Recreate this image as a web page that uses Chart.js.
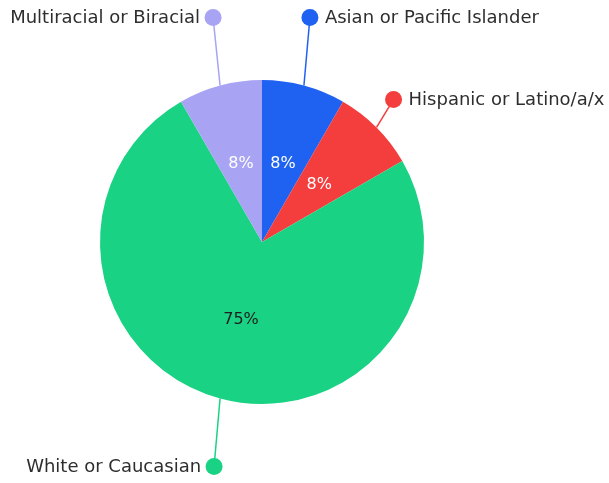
<!DOCTYPE html>
<html>
<head>
<meta charset="utf-8">
<script src="https://cdn.jsdelivr.net/npm/chart.js@4"></script>
<style>
  html, body { margin: 0; padding: 0; background: #fff; }
  #wrap { width: 609px; height: 483px; position: relative; }
</style>
</head>
<body>
<div id="wrap"><canvas id="pie"></canvas></div>
<script>
/* ---------- Data ---------- */
const categories = ['Asian or Pacific Islander', 'Hispanic or Latino/a/x', 'White or Caucasian', 'Multiracial or Biracial'];
const shares = [1, 1, 9, 1];   // 8%, 8%, 75%, 8%
const sliceColors = ['#1f62f2', '#f43d3d', '#1ad283', '#a8a3f3'];

/* ---------- Callout styling (offset from arc edge to dot, text side) ---------- */
const calloutStyle = [
    { dx: 6, dy: -68, side: 'right' },
    { dx: 17, dy: -28, side: 'right' },
    { dx: -6, dy: 68, side: 'left' },
    { dx: -7, dy: -68, side: 'left' }
];
const FONT = '18px "DejaVu Sans", sans-serif';

/* ---------- Plugin: percentages + callout labels ---------- */
const pieLabels = {
    id: 'pieLabels',
    afterDatasetsDraw(chart) {
        const ctx = chart.ctx;
        const meta = chart.getDatasetMeta(0);
        const total = shares.reduce((a, b) => a + b, 0);

        meta.data.forEach((arc, i) => {
            const p = arc.getProps(['x', 'y', 'startAngle', 'endAngle', 'outerRadius']);
            const mid = (p.startAngle + p.endAngle) / 2;
            const cos = Math.cos(mid), sin = Math.sin(mid);

            // percent inside slice
            const pct = Math.round(shares[i] / total * 100) + '%';
            ctx.save();
            ctx.font = '16px "DejaVu Sans", sans-serif';
            ctx.fillStyle = shares[i] / total > 0.5 ? '#1e1e1e' : '#ffffff';
            ctx.textAlign = 'center';
            ctx.textBaseline = 'middle';
            const r = p.outerRadius * 0.5;
            ctx.fillText(pct, p.x + cos * r, p.y + sin * r);

            // leader line
            const ex = p.x + cos * p.outerRadius;
            const ey = p.y + sin * p.outerRadius;
            const s = calloutStyle[i];
            const dx = ex + s.dx, dy = ey + s.dy;
            ctx.strokeStyle = sliceColors[i];
            ctx.lineWidth = 1.5;
            ctx.beginPath();
            ctx.moveTo(ex, ey);
            ctx.lineTo(dx, dy);
            ctx.stroke();

            // dot
            ctx.fillStyle = sliceColors[i];
            ctx.beginPath();
            ctx.arc(dx, dy, 8.5, 0, Math.PI * 2);
            ctx.fill();

            // label text
            ctx.font = FONT;
            ctx.fillStyle = '#2e2e2e';
            ctx.textAlign = s.side === 'right' ? 'left' : 'right';
            ctx.fillText(categories[i], s.side === 'right' ? dx + 15 : dx - 13, dy + 1);
            ctx.restore();
        });
    }
};

/* ---------- Chart ---------- */
new Chart(document.getElementById('pie'), {
    type: 'pie',
    data: {
        labels: categories,
        datasets: [{
            data: shares,
            backgroundColor: sliceColors,
            borderWidth: 0
        }]
    },
    options: {
        responsive: true,
        maintainAspectRatio: false,
        animation: false,
        layout: { padding: { left: 100, right: 185, top: 80, bottom: 79 } },
        plugins: {
            legend: { display: false },
            tooltip: { enabled: false }
        }
    },
    plugins: [pieLabels]
});
</script>
</body>
</html>
